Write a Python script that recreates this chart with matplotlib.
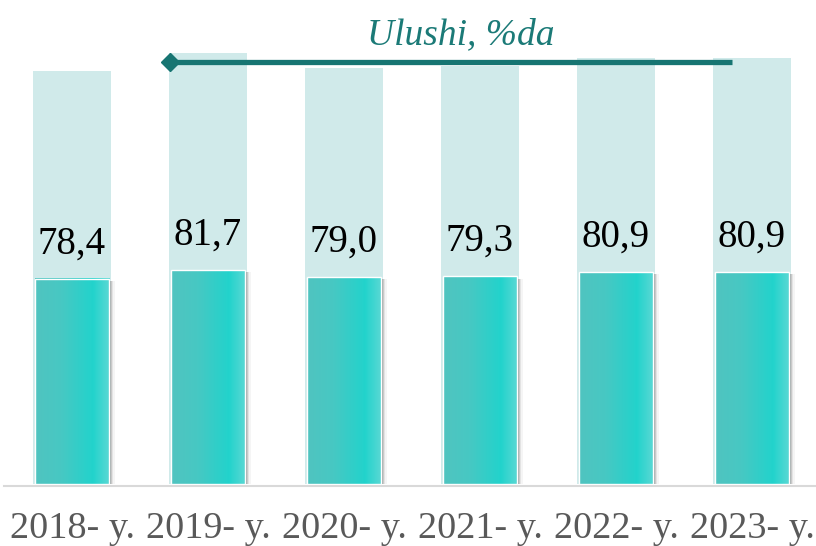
import matplotlib.pyplot as plt
import matplotlib.patches as mpatches
from matplotlib.colors import LinearSegmentedColormap
import numpy as np

##  Data
years = ["2018- y.", "2019- y.", "2020- y.", "2021- y.", "2022- y.", "2023- y."]
share = [78.4, 81.7, 79.0, 79.3, 80.9, 80.9]          # Ulushi, %da
total = [158.0, 164.8, 159.0, 159.8, 162.8, 162.8]    # light back bars
labels = ["78,4", "81,7", "79,0", "79,3", "80,9", "80,9"]

plt.rcParams['font.family'] = ['Liberation Serif', 'DejaVu Serif']

fig = plt.figure(figsize=(8.16, 5.46), dpi=100)
ax = fig.add_axes([0, 62 / 546, 1, 484 / 546])
ax.axis('off')

x = np.arange(len(years))

# back bars
ax.bar(x, total, width=0.574, color='#d0eaea', zorder=1)

# gradient for front bars
cmap = LinearSegmentedColormap.from_list(
    'teal', [(0, '#50c4c0'), (0.35, '#47c8c3'), (0.78, '#22d3cc'), (1, '#5ad8d4')])
grad = np.linspace(0, 1, 64).reshape(1, -1)
w = 0.55
for xi, v in zip(x, share):
    # soft shadow on the right
    for k, a in enumerate([0.35, 0.25, 0.15, 0.08]):
        ax.add_patch(mpatches.Rectangle((xi - w / 2 + 0.012 + 0.009 * k, -0.8), w, v,
                                        color='#808080', alpha=a, lw=0, zorder=2))
    ax.imshow(grad, cmap=cmap, aspect='auto', zorder=3,
              extent=(xi - w / 2, xi + w / 2, 0, v))
    ax.add_patch(mpatches.Rectangle((xi - w / 2, 0), w, v, fill=False,
                                    edgecolor='white', lw=1, zorder=4))
    ax.text(xi, v + 6.3, labels[xi], ha='center', va='bottom',
            fontsize=28, color='black', zorder=5)

ax.set_xlim(-72 / 136, (816 - 72) / 136)
ax.set_ylim(0, 484 / 2.617)

# base line
ax.plot([-0.5, 5.6], [-0.8, -0.8], color='#d9d9d9', lw=1.5, zorder=2,
        clip_on=False)

# arrow line with diamond
ax.plot([0.72, 4.85], [161.4, 161.4], color='#177572', lw=3.8,
        solid_capstyle='butt', zorder=6)
ax.plot([0.72], [161.4], marker='D', color='#177572', markersize=9, zorder=6)

# title
fig.text(0.565, 1 - 35 / 546, "Ulushi, %da", ha='center', va='center',
         fontsize=27, style='italic', color='#1b7a77')

# category labels
for xi, lab in zip(x, years):
    ax.text(xi, -17.0, lab, ha='center', va='center', fontsize=27.5,
            color='#595959', clip_on=False)

fig.savefig('out.png', dpi=100)
plt.close()
